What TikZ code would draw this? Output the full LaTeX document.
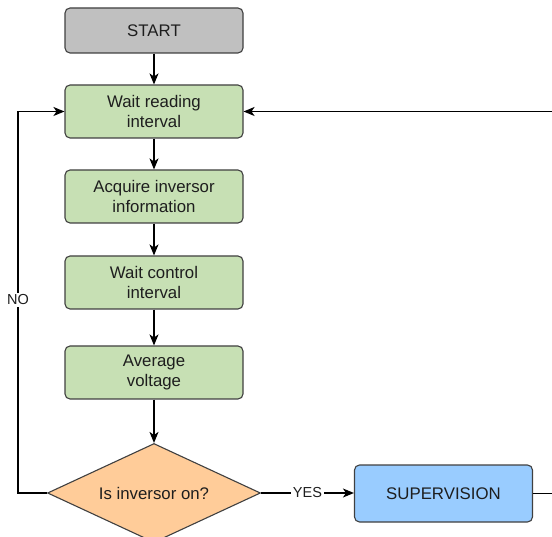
\documentclass[tikz,border=0pt]{standalone}
\usepackage{fontspec}
\setmainfont{Liberation Sans}
\usetikzlibrary{shapes.geometric,arrows.meta}
\definecolor{grayfill}{RGB}{192,192,192}
\definecolor{greenfill}{RGB}{199,224,180}
\definecolor{bluefill}{RGB}{153,204,255}
\definecolor{orangefill}{RGB}{255,204,153}
\definecolor{edge}{RGB}{64,64,64}
\definecolor{txt}{RGB}{30,30,30}
\tikzset{
  flowbox/.style={draw=edge, line width=1.1pt, rounded corners=5pt, minimum width=178pt, minimum height=53pt, inner sep=0pt, align=center, font=\fontsize{16.8}{20.5}\selectfont, text=txt},
  decision/.style={diamond, draw=edge, line width=1.1pt, fill=orangefill, minimum width=213pt, minimum height=99pt, inner sep=0pt, aspect=2.15, font=\fontsize{16.8}{20.5}\selectfont, text=txt},
  conn/.style={draw=black, line width=1.2pt, -{Stealth[length=11pt,width=9pt,inset=3pt]}},
  plain/.style={draw=black, line width=1.2pt},
  lbl/.style={fill=white, inner sep=1.5pt, font=\fontsize{14.5}{17}\selectfont, text=txt}
}
\begin{document}
\begin{tikzpicture}[x=1pt,y=-1pt]
\useasboundingbox (0,0) rectangle (552,537);
\node[flowbox, fill=grayfill, minimum height=45pt] (start) at (154,30.5) {START};
\node[flowbox, fill=greenfill] (wait) at (154,111.5) {Wait reading\\interval};
\node[flowbox, fill=greenfill] (acq) at (154,196.5) {Acquire inversor\\information};
\node[flowbox, fill=greenfill] (ctrl) at (154,282.5) {Wait control\\interval};
\node[flowbox, fill=greenfill] (avg) at (154,372.5) {Average\\voltage};
\node[decision] (dec) at (154,493) {Is inversor on?};
\node[flowbox, fill=bluefill, minimum height=57pt] (sup) at (443.5,493.5) {SUPERVISION};
\coordinate (nocorner1) at (18,493);
\coordinate (nocorner2) at (18,111.5);
\coordinate (redge1) at (552,493.5);
\coordinate (redge2) at (552,111.5);
\draw[conn] (start) -- (wait);
\draw[conn] (wait) -- (acq);
\draw[conn] (acq) -- (ctrl);
\draw[conn] (ctrl) -- (avg);
\draw[conn] (avg) -- (dec);
\draw[conn] (dec.east) -- (sup.west |- dec.east) node[lbl, pos=0.5] {YES};
\draw[conn] (dec.west) -- (nocorner1) -- (nocorner2) -- (wait.west) ;
\node[lbl] (nolbl) at (18,300) {NO};
\draw[plain] (sup.east |- redge1) -- (redge1);
\draw[conn] (redge2) -- (wait.east);
\end{tikzpicture}
\end{document}
